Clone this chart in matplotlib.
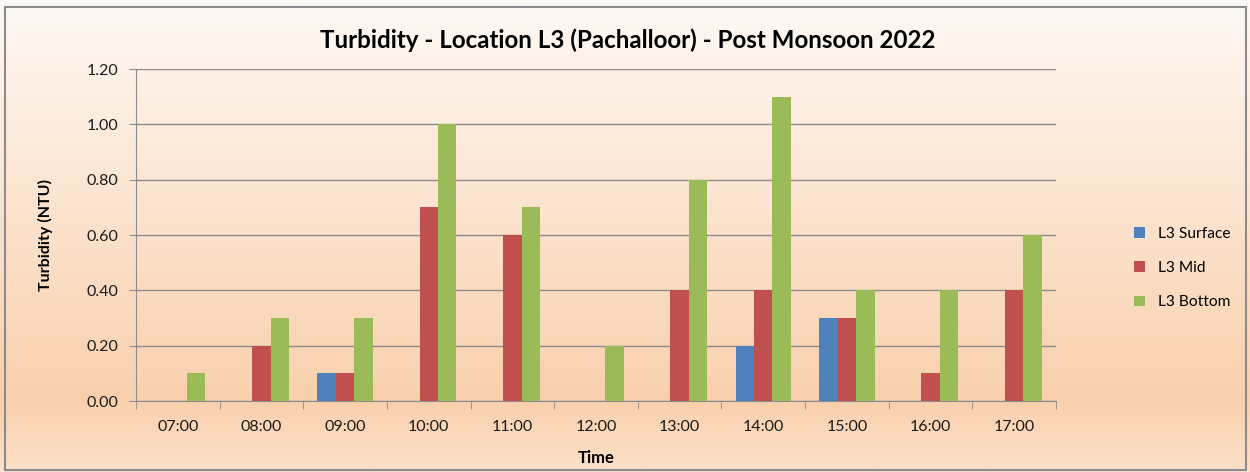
import numpy as np
import matplotlib.pyplot as plt
from matplotlib.colors import LinearSegmentedColormap
from matplotlib.patches import Rectangle

times = ["07:00", "08:00", "09:00", "10:00", "11:00", "12:00",
         "13:00", "14:00", "15:00", "16:00", "17:00"]
surface = [0.0, 0.0, 0.1, 0.0, 0.0, 0.0, 0.0, 0.2, 0.3, 0.0, 0.0]
mid = [0.0, 0.2, 0.1, 0.7, 0.6, 0.0, 0.4, 0.4, 0.3, 0.1, 0.4]
bottom = [0.1, 0.3, 0.3, 1.0, 0.7, 0.2, 0.8, 1.1, 0.4, 0.4, 0.6]

series = [("L3 Surface", surface, "#4F81BD"),
          ("L3 Mid", mid, "#C0504D"),
          ("L3 Bottom", bottom, "#9BBB59")]

plt.rcParams["font.family"] = ["Lato", "DejaVu Sans"]

fig = plt.figure(figsize=(12.5, 4.72), dpi=100)

# chart area fill: pale at top, peach towards the bottom
bg = fig.add_axes([0, 0, 1, 1], zorder=-10)
grad = LinearSegmentedColormap.from_list(
    "sunset", [(0.0, "#FEF9F4"), (0.85, "#F9D0AD"), (1.0, "#FCE1CA")])
bg.imshow(np.linspace(0, 1, 256).reshape(-1, 1), aspect="auto", cmap=grad,
          extent=[0, 1, 0, 1], origin="upper")
bg.set_xlim(0, 1)
bg.set_ylim(0, 1)
bg.axis("off")
fig.patches.append(Rectangle((5 / 1250, 2 / 472), 1241 / 1250, 463 / 472,
                             transform=fig.transFigure, fill=False,
                             edgecolor="#8C8C8C", linewidth=1.5))

ax = fig.add_axes([0.1088, 0.1504, 0.736, 0.7034])
ax.patch.set_alpha(0)

x = np.arange(len(times))
w = 0.22
for i, (name, vals, color) in enumerate(series):
    ax.bar(x + (i - 1) * w, vals, width=w, color=color, label=name, zorder=3)

ax.set_xlim(-0.5, len(times) - 0.5)
ax.set_ylim(0, 1.2)
ax.set_yticks(np.arange(0, 1.21, 0.2))
ax.set_yticklabels([f"{v:.2f}" for v in np.arange(0, 1.21, 0.2)])
ax.yaxis.grid(True, color="#8C8C8C", linewidth=1, zorder=0)

ax.set_xticks(x)
ax.set_xticklabels(times)
ax.set_xticks(np.arange(-0.5, len(times)), minor=True)
ax.tick_params(axis="x", which="major", length=0, pad=14, labelsize=11.5,
               labelcolor="#1A1A1A")
ax.tick_params(axis="x", which="minor", length=6, color="#8C8C8C")
ax.tick_params(axis="y", length=5, color="#8C8C8C", labelsize=11.5,
               labelcolor="#1A1A1A", pad=8)

for side in ("top", "right"):
    ax.spines[side].set_visible(False)
for side in ("left", "bottom"):
    ax.spines[side].set_color("#8C8C8C")

# title is centred on the whole chart, not on the plot area
fig.text(0.502, 1 - 40 / 472,
         "Turbidity - Location L3 (Pachalloor) - Post Monsoon 2022",
         fontsize=17.4, fontweight="bold", ha="center", va="center")
ax.set_xlabel("Time", fontsize=12, fontweight="bold", labelpad=11)
ax.set_ylabel("Turbidity (NTU)", fontsize=11.5, fontweight="bold",
              labelpad=24)

ax.legend(loc="center left", bbox_to_anchor=(1.07, 0.4), frameon=False,
          fontsize=11.2, handlelength=0.7, handleheight=0.7,
          labelspacing=1.3, handletextpad=0.8)

fig.savefig("out.png", dpi=100)
